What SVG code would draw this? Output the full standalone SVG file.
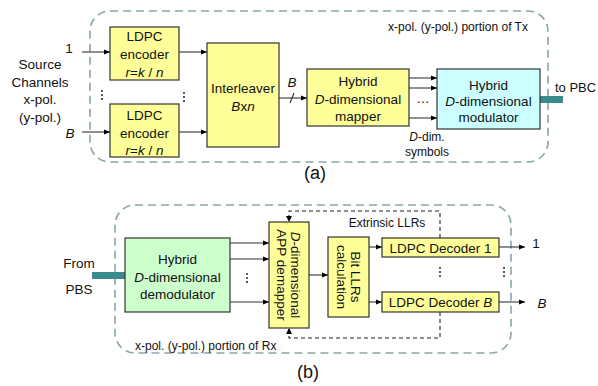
<svg xmlns="http://www.w3.org/2000/svg" width="598" height="386" viewBox="0 0 598 386">
<defs>
<marker id="ah" viewBox="0 0 10 10" refX="10" refY="5" markerWidth="6" markerHeight="6" markerUnits="userSpaceOnUse" orient="auto"><path d="M0,1 L10,5 L0,9 z" fill="#000"/></marker>
<style>
text{font-family:"Liberation Sans",Arial,sans-serif;fill:#111;}
.t{font-size:13.5px;text-anchor:middle;}
.s{font-size:12px;}
.i{font-style:italic;}
.big{font-size:18px;text-anchor:middle;}
.y{fill:#ffff99;stroke:#333;stroke-width:1.2;}
.c{fill:#ccffff;stroke:#333;stroke-width:1.2;}
.g{fill:#ccffcc;stroke:#333;stroke-width:1.2;}
.frame{fill:none;stroke:#8aa6a6;stroke-width:1.6;stroke-dasharray:8 5;}
.ln{fill:none;stroke:#333;stroke-width:1.1;}
.fb{fill:none;stroke:#222;stroke-width:1.1;stroke-dasharray:4 3;}
.bar{fill:#3b8a8c;}
</style>
</defs>

<!-- frames -->
<rect class="frame" x="90" y="11" width="458" height="151" rx="20"/>
<rect class="frame" x="115" y="205" width="396" height="148" rx="20"/>

<!-- teal bars -->
<rect class="bar" x="540" y="96" width="23" height="7"/>
<rect class="bar" x="92" y="272" width="33" height="7"/>

<g id="connectors">
<line class="ln" x1="82" y1="52" x2="110" y2="52" marker-end="url(#ah)"/>
<line class="ln" x1="82" y1="132" x2="110" y2="132" marker-end="url(#ah)"/>
<line class="ln" x1="179" y1="52" x2="207" y2="52" marker-end="url(#ah)"/>
<line class="ln" x1="179" y1="132" x2="207" y2="132" marker-end="url(#ah)"/>
<line class="ln" x1="279" y1="98" x2="307" y2="98" marker-end="url(#ah)"/>
<line class="ln" x1="290" y1="103" x2="294" y2="93"/>
<line class="ln" x1="409" y1="78" x2="437" y2="78" marker-end="url(#ah)"/>
<line class="ln" x1="409" y1="88" x2="437" y2="88" marker-end="url(#ah)"/>
<line class="ln" x1="409" y1="118" x2="437" y2="118" marker-end="url(#ah)"/>
<line class="ln" x1="230" y1="243" x2="269" y2="243" marker-end="url(#ah)"/>
<line class="ln" x1="230" y1="259" x2="269" y2="259" marker-end="url(#ah)"/>
<line class="ln" x1="230" y1="302" x2="269" y2="302" marker-end="url(#ah)"/>
<line class="ln" x1="309" y1="275" x2="328" y2="275" marker-end="url(#ah)"/>
<line class="ln" x1="369" y1="247" x2="382" y2="247" marker-end="url(#ah)"/>
<line class="ln" x1="369" y1="302" x2="382" y2="302" marker-end="url(#ah)"/>
<line class="ln" x1="499" y1="247" x2="525" y2="247" marker-end="url(#ah)"/>
<line class="ln" x1="499" y1="302" x2="525" y2="302" marker-end="url(#ah)"/>
<path class="fb" d="M440,238 V211 H289 V222"/>
<path class="fb" d="M440,312 V338 H289 V328"/>
<path d="M286,216 L292,216 L289,222 z" fill="#000"/>
<path d="M286,334 L292,334 L289,328 z" fill="#000"/>
</g>

<g id="enc1"><rect class="y" x="110" y="27" width="69" height="53"/>
<text class="t" x="144.5" y="36" dy="4.5">LDPC</text>
<text class="t" x="144.5" y="54" dy="4.5">encoder</text>
<text class="t i" x="144.5" y="72" dy="4.5">r<tspan font-style="normal">=</tspan>k<tspan font-style="normal"> / </tspan>n</text></g>

<g id="enc2"><rect class="y" x="110" y="104" width="69" height="53"/>
<text class="t" x="144.5" y="115" dy="4.5">LDPC</text>
<text class="t" x="144.5" y="133" dy="4.5">encoder</text>
<text class="t i" x="144.5" y="150" dy="4.5">r<tspan font-style="normal">=</tspan>k<tspan font-style="normal"> / </tspan>n</text></g>

<g id="interleaver"><rect class="y" x="207" y="43" width="72" height="104"/>
<text class="t" x="243" y="88" dy="4.5">Interleaver</text>
<text class="t i" x="243" y="106" dy="4.5">B<tspan font-style="normal">x</tspan>n</text></g>

<g id="mapper"><rect class="y" x="307" y="69" width="102" height="57"/>
<text class="t" x="358" y="81" dy="4.5">Hybrid</text>
<text class="t" x="358" y="99" dy="4.5"><tspan class="i">D</tspan>-dimensional</text>
<text class="t" x="358" y="116" dy="4.5">mapper</text></g>

<g id="modulator"><rect class="c" x="437" y="69" width="103" height="60"/>
<text class="t" x="488.5" y="85" dy="4.5">Hybrid</text>
<text class="t" x="488.5" y="101" dy="4.5"><tspan class="i">D</tspan>-dimensional</text>
<text class="t" x="488.5" y="117" dy="4.5">modulator</text></g>

<g id="demodulator"><rect class="g" x="125" y="238" width="105" height="74"/>
<text class="t" x="177.5" y="259" dy="4.5">Hybrid</text>
<text class="t" x="177.5" y="277" dy="4.5"><tspan class="i">D</tspan>-dimensional</text>
<text class="t" x="177.5" y="294" dy="4.5">demodulator</text></g>

<g id="demapper"><rect class="y" x="269" y="222" width="40" height="106"/>
<text class="t" transform="translate(295,275) rotate(90)" dy="4.5"><tspan class="i">D</tspan>-dimensional</text>
<text class="t" transform="translate(281,275) rotate(90)" dy="4.5">APP demapper</text></g>

<g id="bitllr"><rect class="y" x="328" y="237" width="41" height="80"/>
<text class="t" transform="translate(355,277) rotate(90)" dy="4.5">Bit LLRs</text>
<text class="t" transform="translate(341,277) rotate(90)" dy="4.5">calculation</text></g>

<g id="dec1"><rect class="y" x="382" y="238" width="117" height="19"/>
<text class="t" x="440.5" y="247.5" dy="5">LDPC Decoder 1</text></g>

<g id="decB"><rect class="y" x="382" y="292" width="117" height="20"/>
<text class="t" x="440.5" y="302" dy="5">LDPC Decoder <tspan class="i">B</tspan></text></g>

<g id="labels">
<text class="t" x="69" y="48" dy="4.5">1</text>
<text class="t i" x="70" y="133" dy="4.5">B</text>
<text class="t" x="40" y="64" dy="4.5">Source</text>
<text class="t" x="40" y="82" dy="4.5">Channels</text>
<text class="t" x="40" y="99" dy="4.5">x-pol.</text>
<text class="t" x="40" y="117" dy="4.5">(y-pol.)</text>
<text class="t i" x="292" y="82" dy="4.5">B</text>
<text class="t" x="423" y="98" dy="4.5">…</text>
<text class="s" x="427" y="137" dy="4" text-anchor="middle"><tspan class="i">D</tspan>-dim.</text>
<text class="s" x="427" y="152" dy="4" text-anchor="middle">symbols</text>
<text class="s" x="458" y="27" dy="4" text-anchor="middle">x-pol. (y-pol.) portion of Tx</text>
<text x="555" y="87" dy="4.5" style="text-anchor:start;font-size:13px">to PBC</text>
<text class="big" x="315" y="173" dy="6">(a)</text>
<text class="t" x="79" y="263" dy="4.5">From</text>
<text class="t" x="79" y="289" dy="4.5">PBS</text>
<text class="s" x="387" y="223" dy="4" text-anchor="middle">Extrinsic LLRs</text>
<text class="s" x="135" y="346" dy="4">x-pol. (y-pol.) portion of Rx</text>
<text class="t" x="536" y="243" dy="4.5">1</text>
<text class="t i" x="542" y="303" dy="4.5">B</text>
<text class="big" x="308" y="372" dy="6">(b)</text>
</g>

<g id="dots" fill="#222">
<circle cx="102" cy="91" r="1"/><circle cx="102" cy="95" r="1"/><circle cx="102" cy="99" r="1"/>
<circle cx="184" cy="93" r="1"/><circle cx="184" cy="97" r="1"/><circle cx="184" cy="101" r="1"/>
<circle cx="247" cy="274" r="1"/><circle cx="247" cy="278" r="1"/><circle cx="247" cy="282" r="1"/>
<circle cx="440" cy="268" r="1"/><circle cx="440" cy="272" r="1"/><circle cx="440" cy="276" r="1"/>
<circle cx="504" cy="268" r="1"/><circle cx="504" cy="272" r="1"/><circle cx="504" cy="276" r="1"/>
</g>
</svg>
